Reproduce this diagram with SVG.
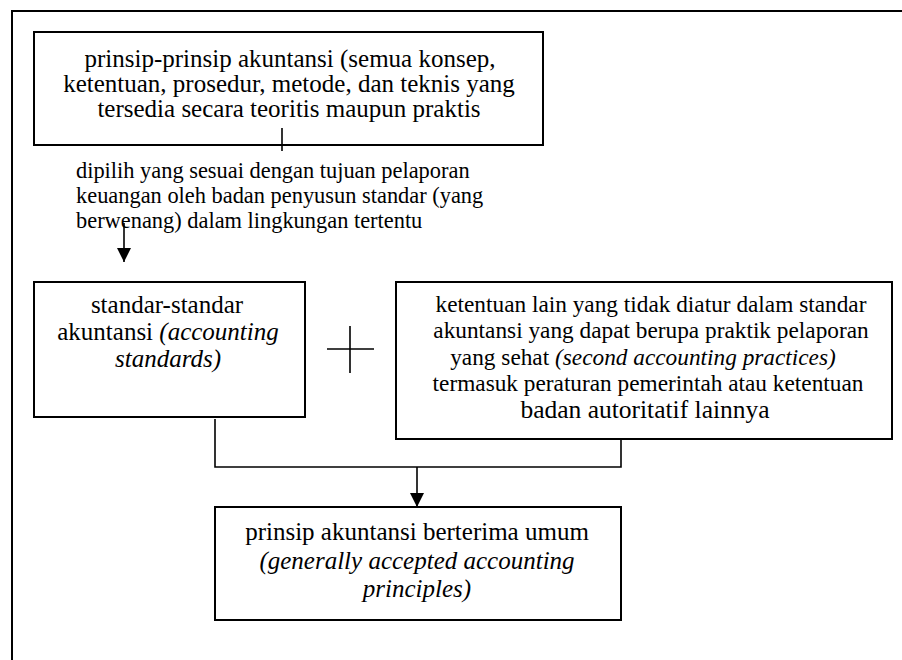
<svg xmlns="http://www.w3.org/2000/svg" width="902" height="660" viewBox="0 0 902 660" font-family="'Liberation Serif', 'Times New Roman', Times, serif">
<defs>
<style>
.box{fill:#fff;stroke:#000;stroke-width:2}
.ln{fill:none;stroke:#000;stroke-width:1.6}
text{font-family:'Liberation Serif','Times New Roman',Times,serif;fill:#000}
.t25{font-size:25px;text-anchor:middle}
.t23{font-size:23.3px;text-anchor:middle}
.lab{font-size:22.4px}
.i{font-style:italic}
</style>
<marker id="ah" markerWidth="16" markerHeight="16" refX="14" refY="7" orient="auto" markerUnits="userSpaceOnUse">
<path d="M0,0 L14,7 L0,14 Z" fill="#000"/>
</marker>
</defs>
<rect width="902" height="660" fill="#fff"/>
<path d="M12,660 V11 H902" fill="none" stroke="#000" stroke-width="2"/>

<g id="n1">
<rect class="box" x="34" y="32" width="509" height="113"/>
<text class="t25" x="290" y="67">prinsip-prinsip akuntansi (semua konsep,</text>
<text class="t25" x="289" y="92">ketentuan, prosedur, metode, dan teknis yang</text>
<text class="t25" x="289" y="117">tersedia secara teoritis maupun praktis</text>
</g>

<g id="label">
<text class="lab" x="76" y="178">dipilih yang sesuai dengan tujuan pelaporan</text>
<text class="lab" x="76" y="203">keuangan oleh badan penyusun standar (yang</text>
<text class="lab" x="76" y="228">berwenang) dalam lingkungan tertentu</text>
</g>

<g id="n2">
<rect class="box" x="34" y="282" width="271" height="135"/>
<text class="t25" x="167" y="313">standar-standar</text>
<text class="t25" x="168" y="340">akuntansi <tspan class="i">(accounting</tspan></text>
<text class="t25 i" x="168" y="367">standards)</text>
</g>

<g id="plus">
<path class="ln" d="M327,349 H374 M350,326 V373"/>
</g>

<g id="n3">
<rect class="box" x="396" y="282" width="496" height="157"/>
<text class="t23" x="651" y="312">ketentuan lain yang tidak diatur dalam standar</text>
<text class="t23" x="651" y="338">akuntansi yang dapat berupa praktik pelaporan</text>
<text class="t23" x="643" y="365">yang sehat <tspan class="i">(second accounting practices)</tspan></text>
<text class="t23" x="648" y="391">termasuk peraturan pemerintah atau ketentuan</text>
<text class="t25" x="645" y="418" style="font-size:25.5px">badan autoritatif lainnya</text>
</g>

<g id="n4">
<rect class="box" x="215" y="507" width="406" height="113"/>
<text class="t25" x="417" y="540">prinsip akuntansi berterima umum</text>
<text class="t25 i" x="417" y="569">(generally accepted accounting</text>
<text class="t25 i" x="417" y="597">principles)</text>
</g>

<g id="connectors">
<path class="ln" d="M282,128 V151"/>
<path class="ln" d="M124,223 V262" marker-end="url(#ah)"/>
<path class="ln" d="M215,419 V467 H621 V440"/>
<path class="ln" d="M417,467 V507" marker-end="url(#ah)"/>
</g>
</svg>
